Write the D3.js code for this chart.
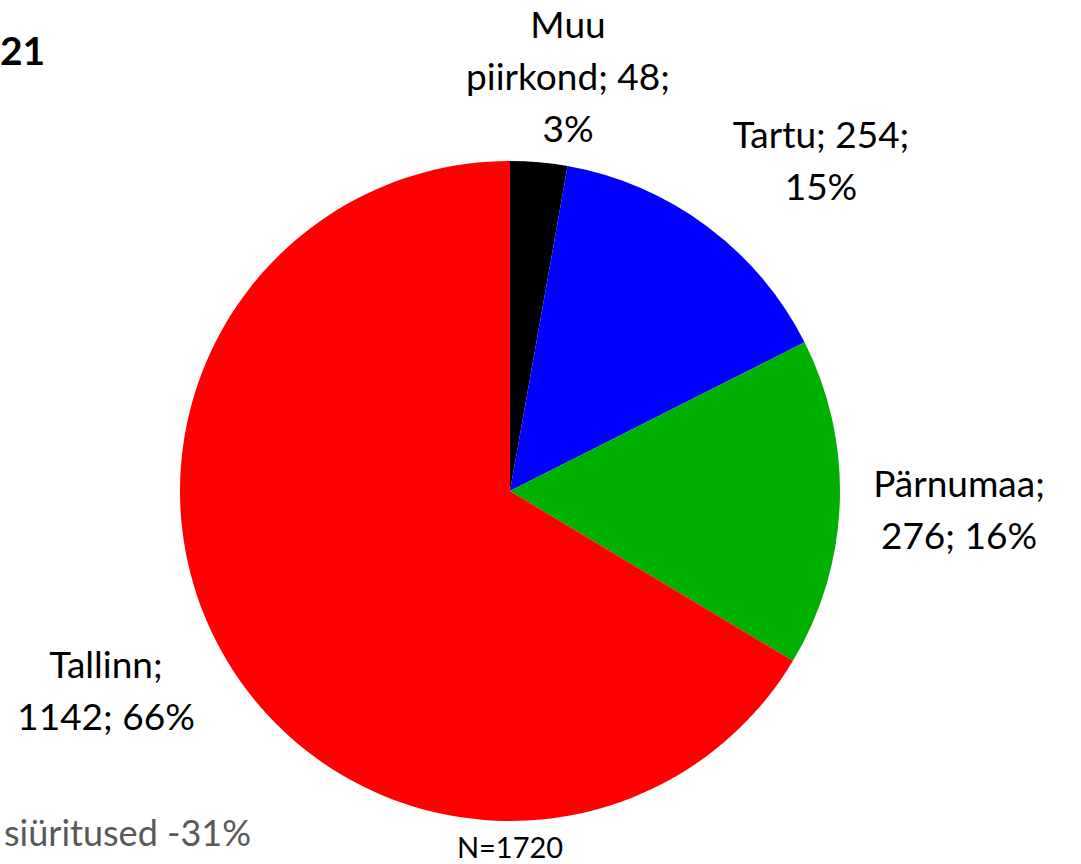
<!DOCTYPE html>
<meta charset="utf-8">
<style>
    body { margin: 0; background: #fff; }
    text { font-family: Lato, "Noto Sans", sans-serif; fill: #000; }
    .lbl { font-size: 37px; }
    .note { font-size: 36px; fill: #595959; }
    .n { font-size: 29px; }
    .title { font-size: 39px; font-weight: bold; }
</style>
<body>
<svg width="1081" height="864"></svg>
<script src="https://d3js.org/d3.v7.min.js"></script>
<script>

    // regions, counts and colours
    var regions = ["Muu piirkond", "Tartu", "Pärnumaa", "Tallinn"];
    var counts = [48, 254, 276, 1142];
    var colors = ["#000000", "#0000ff", "#00b000", "#ff0000"];
    // label lines as shown on the chart
    var labelLines = [
        ["Muu", "piirkond; 48;", "3%"],
        ["Tartu; 254;", "15%"],
        ["Pärnumaa;", "276; 16%"],
        ["Tallinn;", "1142; 66%"]
    ];
    var total = d3.sum(counts);

    var svg = d3.select("svg");
    var cx = 510, cy = 491, radius = 330;

    var pie = d3.pie().sort(null).value(function (d) { return d; });
    var arc = d3.arc().innerRadius(0).outerRadius(radius);

    var g = svg.append("g").attr("transform", "translate(" + cx + "," + cy + ")");

    g.selectAll("path")
        .data(pie(counts))
        .enter().append("path")
        .attr("d", arc)
        .attr("fill", function (d, i) { return colors[i]; });

    // label anchor points (centre of first line baseline), relative to centre
    var labelPos = [[58, -453], [311, -343], [449, 6], [-404, 187]];
    var lineH = 52;

    var labels = g.selectAll("text.lbl")
        .data(labelLines)
        .enter().append("text")
        .attr("class", "lbl")
        .attr("text-anchor", "middle")
        .attr("x", function (d, i) { return labelPos[i][0]; })
        .attr("y", function (d, i) { return labelPos[i][1]; });

    labels.selectAll("tspan")
        .data(function (d, i) { return d.map(function (s) { return { s: s, x: labelPos[i][0] }; }); })
        .enter().append("tspan")
        .attr("x", function (d) { return d.x; })
        .attr("dy", function (d, j) { return j === 0 ? 0 : lineH; })
        .text(function (d) { return d.s; });

    svg.append("text")
        .attr("class", "n")
        .attr("text-anchor", "middle")
        .attr("x", cx)
        .attr("y", 858)
        .text("N=" + total);

    // only the visible tail of the cropped subtitle
    svg.append("text")
        .attr("class", "note")
        .attr("text-anchor", "end")
        .attr("x", 251)
        .attr("y", 846)
        .text("siüritused -31%");

    // only the visible tail of the cropped title
    svg.append("text")
        .attr("class", "title")
        .attr("x", 0)
        .attr("y", 65)
        .text("21");

</script>
</body>
